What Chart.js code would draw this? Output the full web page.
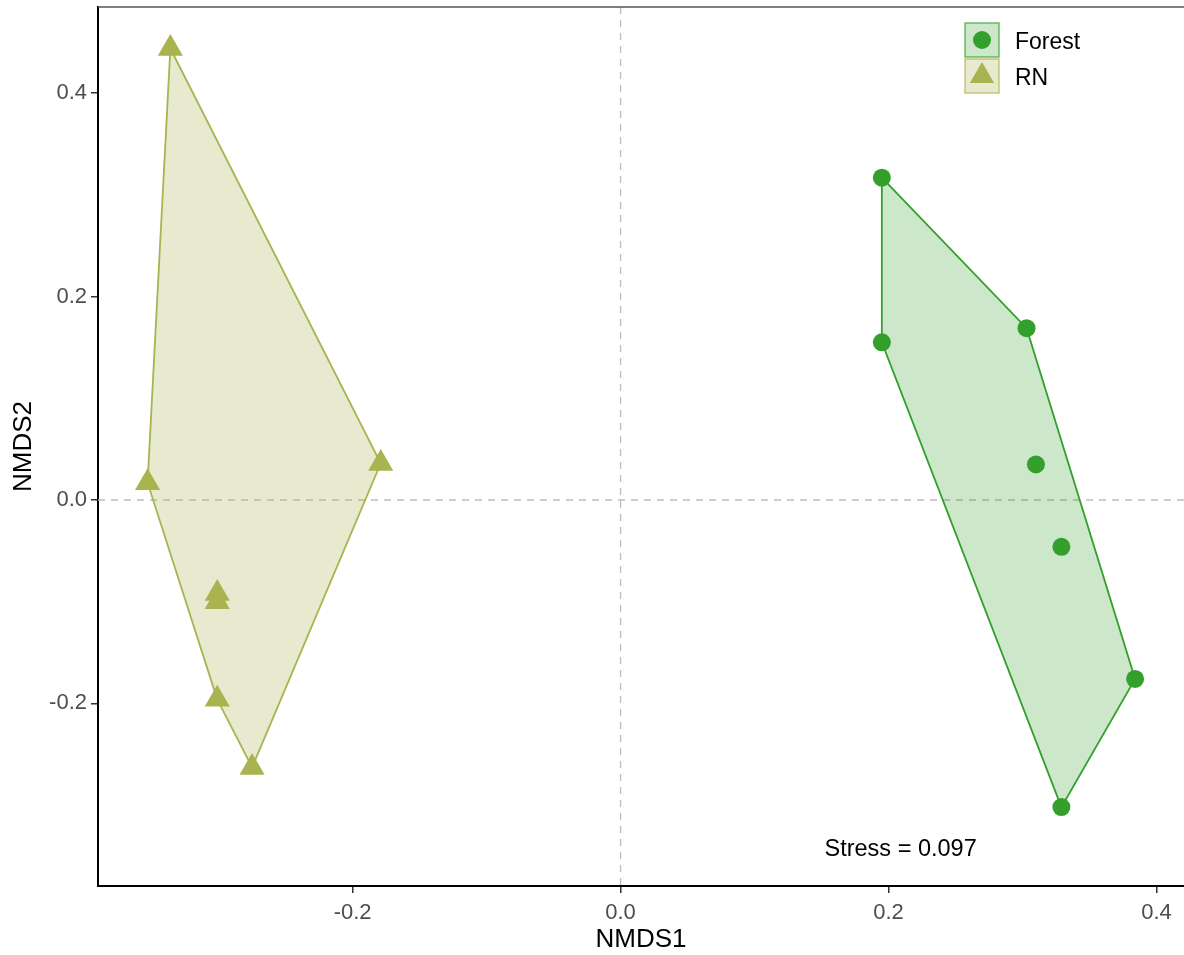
<!DOCTYPE html>
<html>
<head>
<meta charset="utf-8">
<script src="https://cdn.jsdelivr.net/npm/chart.js"></script>
<style>
  html, body { margin: 0; padding: 0; background: #fff; }
  canvas { display: block; }
</style>
</head>
<body>
<canvas id="myChart" width="1184" height="955"></canvas>
<script>
// NMDS scores
var forestX = [0.195, 0.195, 0.303, 0.310, 0.329, 0.384, 0.329];
var forestY = [0.317, 0.155, 0.169, 0.035, -0.046, -0.176, -0.302];
var rnX = [-0.336, -0.353, -0.179, -0.301, -0.301, -0.301, -0.275];
var rnY = [0.444, 0.017, 0.036, -0.092, -0.100, -0.196, -0.263];

// convex hull vertex order (indices into the arrays above)
var forestHull = [0, 2, 5, 6, 1, 0];
var rnHull = [0, 2, 6, 5, 1, 0];

var groups = ['Forest', 'RN'];
var groupColors = ['#33a02c', '#a9b34f'];
var groupFills = ['rgba(51,160,44,0.25)', 'rgba(169,179,79,0.28)'];

var xTicks = [-0.2, 0.0, 0.2, 0.4];
var yTicks = [-0.2, 0.0, 0.2, 0.4];
var xRange = [-0.39, 0.4205];
var yRange = [-0.3796, 0.4848];
var stressText = 'Stress = 0.097';
var stressPos = [0.209, -0.344];

function toPoints(xs, ys) {
  return xs.map(function (x, i) { return { x: x, y: ys[i] }; });
}
function toHull(xs, ys, order) {
  return order.map(function (i) { return { x: xs[i], y: ys[i] }; });
}

// no extra room for edge tick labels, the panel runs to the canvas edge
function noPad(axis) {
  axis.paddingLeft = 0;
  axis.paddingRight = 0;
  axis.paddingTop = 0;
  axis.paddingBottom = 0;
}

var tickFont = { family: 'Liberation Sans', size: 22 };
var titleFont = { family: 'Liberation Sans', size: 26 };

var extras = {
  id: 'extras',
  beforeDatasetsDraw: function (chart) {
    var ctx = chart.ctx, a = chart.chartArea;
    var x0 = chart.scales.x.getPixelForValue(0);
    var y0 = chart.scales.y.getPixelForValue(0);
    ctx.save();
    ctx.strokeStyle = '#bdbdbd';
    ctx.lineWidth = 1.3;
    ctx.setLineDash([7, 6]);
    ctx.beginPath();
    ctx.moveTo(x0, a.top); ctx.lineTo(x0, a.bottom);
    ctx.moveTo(a.left, y0); ctx.lineTo(a.right, y0);
    ctx.stroke();
    ctx.restore();
  },
  afterDraw: function (chart) {
    var ctx = chart.ctx, a = chart.chartArea;
    ctx.save();
    // top border
    ctx.strokeStyle = '#555';
    ctx.lineWidth = 1.5;
    ctx.beginPath();
    ctx.moveTo(a.left, a.top); ctx.lineTo(a.right, a.top);
    ctx.stroke();

    // stress annotation
    ctx.fillStyle = '#000';
    ctx.font = '23.5px "Liberation Sans"';
    ctx.textAlign = 'center';
    ctx.textBaseline = 'middle';
    ctx.fillText(stressText, chart.scales.x.getPixelForValue(stressPos[0]), chart.scales.y.getPixelForValue(stressPos[1]));

    // legend, ggplot style keys
    var lx = a.right - 219, ly = a.top + 16, size = 34;
    groups.forEach(function (g, i) {
      var top = ly + i * (size + 2);
      ctx.fillStyle = groupFills[i];
      ctx.fillRect(lx, top, size, size);
      ctx.strokeStyle = groupColors[i];
      ctx.globalAlpha = 0.7;
      ctx.lineWidth = 1.5;
      ctx.strokeRect(lx, top, size, size);
      ctx.globalAlpha = 1;
      ctx.fillStyle = groupColors[i];
      var cx = lx + size / 2, cy = top + size / 2;
      ctx.beginPath();
      if (i === 0) {
        ctx.arc(cx, cy, 9, 0, Math.PI * 2);
      } else {
        var r = 14;
        ctx.moveTo(cx, cy - r);
        ctx.lineTo(cx + r * Math.sin(Math.PI * 2 / 3), cy - r * Math.cos(Math.PI * 2 / 3));
        ctx.lineTo(cx + r * Math.sin(Math.PI * 4 / 3), cy - r * Math.cos(Math.PI * 4 / 3));
        ctx.closePath();
      }
      ctx.fill();
      ctx.fillStyle = '#000';
      ctx.font = '23px "Liberation Sans"';
      ctx.textAlign = 'left';
      ctx.fillText(g, lx + size + 16, cy + 2.5);
    });
    ctx.restore();
  }
};

var config = {
  type: 'scatter',
  data: {
    datasets: [{
      label: groups[0],
      data: toPoints(forestX, forestY),
      pointStyle: 'circle',
      pointRadius: 9,
      backgroundColor: groupColors[0],
      borderWidth: 0
    }, {
      label: groups[1],
      data: toPoints(rnX, rnY),
      pointStyle: 'triangle',
      pointRadius: 14.5,
      backgroundColor: groupColors[1],
      borderWidth: 0
    }, {
      label: 'Forest hull',
      data: toHull(forestX, forestY, forestHull),
      showLine: true,
      fill: 'shape',
      pointRadius: 0,
      borderColor: groupColors[0],
      borderWidth: 1.8,
      backgroundColor: groupFills[0],
      tension: 0
    }, {
      label: 'RN hull',
      data: toHull(rnX, rnY, rnHull),
      showLine: true,
      fill: 'shape',
      pointRadius: 0,
      borderColor: groupColors[1],
      borderWidth: 1.8,
      backgroundColor: groupFills[1],
      tension: 0
    }]
  },
  options: {
    responsive: false,
    animation: false,
    events: [],
    layout: { autoPadding: false, padding: { top: 7, right: 0, left: 0, bottom: 0 } },
    plugins: {
      legend: { display: false },
      tooltip: { enabled: false }
    },
    scales: {
      x: {
        type: 'linear',
        min: xRange[0],
        max: xRange[1],
        afterBuildTicks: function (axis) { axis.ticks = xTicks.map(function (v) { return { value: v }; }); },
        afterFit: function (axis) { axis.height = 69; noPad(axis); },
        ticks: {
          color: '#4d4d4d',
          font: tickFont,
          padding: 7,
          maxRotation: 0,
          callback: function (v) { return v.toFixed(1); }
        },
        grid: { drawOnChartArea: false, drawTicks: true, tickLength: 7, color: '#333', lineWidth: 1.5 },
        border: { display: true, color: '#000', width: 2 },
        title: { display: true, text: 'NMDS1', color: '#000', font: titleFont, padding: { top: 0, bottom: 0 } }
      },
      y: {
        type: 'linear',
        min: yRange[0],
        max: yRange[1],
        afterBuildTicks: function (axis) { axis.ticks = yTicks.map(function (v) { return { value: v }; }); },
        afterFit: function (axis) { axis.width = 98; noPad(axis); },
        ticks: {
          color: '#4d4d4d',
          font: tickFont,
          padding: 4,
          callback: function (v) { return v.toFixed(1); }
        },
        grid: { drawOnChartArea: false, drawTicks: true, tickLength: 7, color: '#333', lineWidth: 1.5 },
        border: { display: true, color: '#000', width: 2 },
        title: { display: true, text: 'NMDS2', color: '#000', font: titleFont, padding: { top: 8, bottom: 0 } }
      }
    }
  },
  plugins: [extras]
};

var ctx = document.getElementById('myChart').getContext('2d');
var myChart = new Chart(ctx, config);
</script>
</body>
</html>
